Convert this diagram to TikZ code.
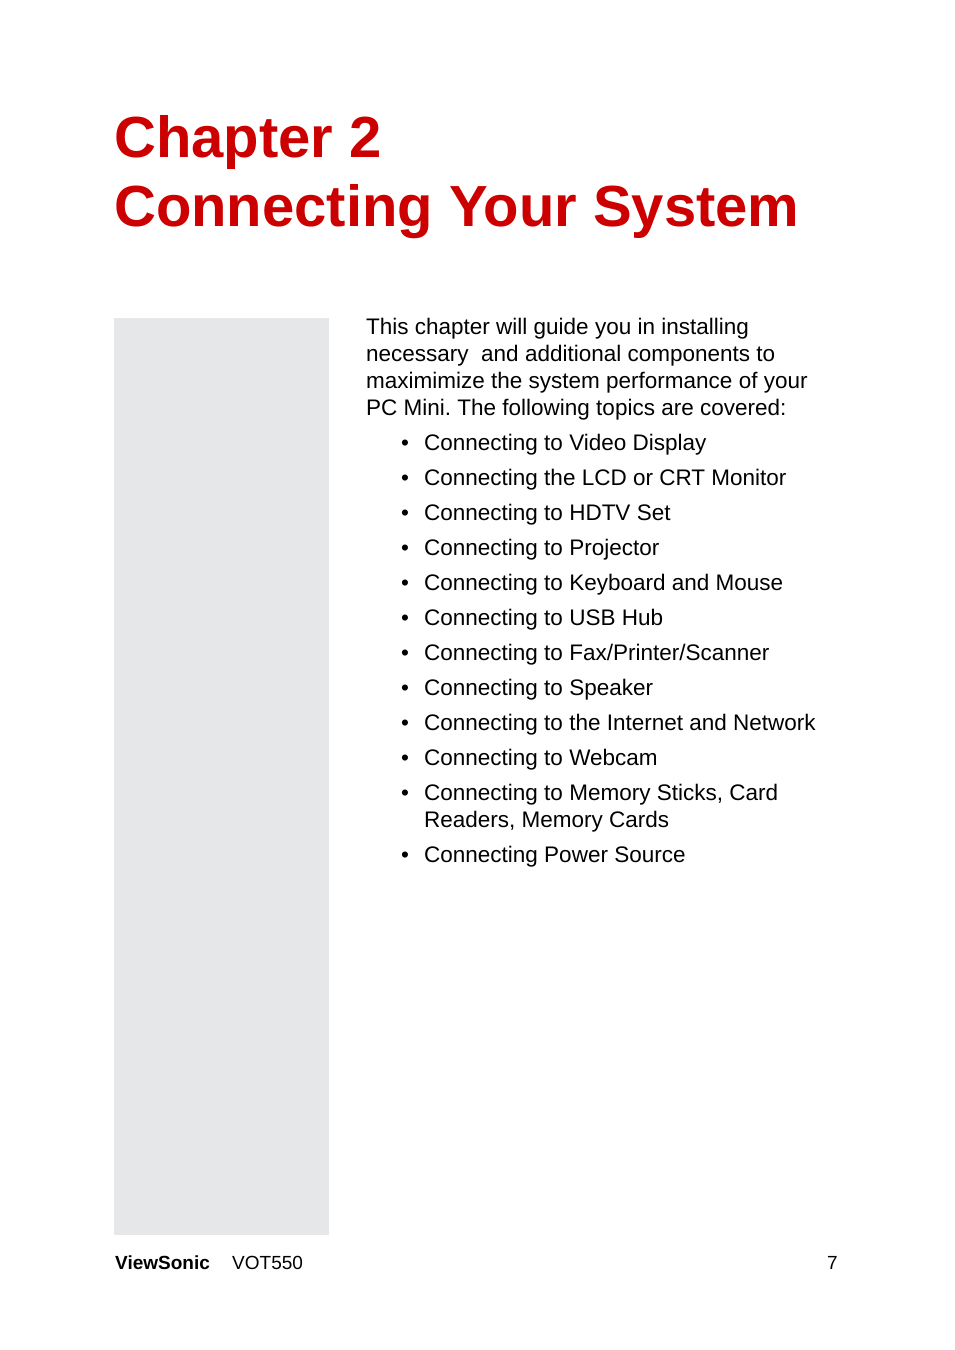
\documentclass[tikz,border=0pt]{standalone}
\usepackage{fontspec}
\setmainfont{Liberation Sans}
\frenchspacing
\definecolor{titlered}{HTML}{CC0000}
\definecolor{sidegray}{HTML}{E6E7E9}
\begin{document}
\begin{tikzpicture}[x=1pt,y=-1pt,
  title/.style={anchor=base west,inner sep=0,text=titlered,font=\fontsize{58}{58}\selectfont\bfseries},
  body/.style={anchor=base west,inner sep=0,font=\fontsize{22.5}{27}\selectfont},
  bul/.style={anchor=base west,inner sep=0,font=\fontsize{22.5}{27}\selectfont},
  foot/.style={anchor=base west,inner sep=0,font=\fontsize{19}{22}\selectfont}]
\useasboundingbox[fill=white] (0,0) rectangle (954,1350);
\fill[sidegray] (114,318) rectangle (329,1235);
\node[title,xscale=1] (t1) at (114,157) {Chapter 2};
\node[title] (t2) at (114,226) {Connecting Your System};
\node[body] (p1) at (366,334) {This chapter will guide you in installing};
\node[body] (p2) at (366,361) {necessary\ \ and additional components to};
\node[body] (p3) at (366,388) {maximimize the system performance of your};
\node[body] (p4) at (366,415) {PC Mini. The following topics are covered:};
\foreach \y/\t in {450/{Connecting to Video Display},485/{Connecting the LCD or CRT Monitor},520/{Connecting to HDTV Set},555/{Connecting to Projector},590/{Connecting to Keyboard and Mouse},625/{Connecting to USB Hub},660/{Connecting to Fax/Printer/Scanner},695/{Connecting to Speaker},730/{Connecting to the Internet and Network},765/{Connecting to Webcam},800/{Connecting to Memory Sticks, Card},862/{Connecting Power Source}}{
  \node[bul] at (401,\y) {•};
  \node[bul] at (424,\y) {\t};
}
\node[bul] (r2) at (424,827) {Readers, Memory Cards};
\node[foot,font=\fontsize{19}{22}\selectfont\bfseries] (f1) at (115,1269) {ViewSonic};
\node[foot] (f2) at (232,1269) {VOT550};
\node[foot] (f3) at (827,1269) {7};
\end{tikzpicture}
\end{document}
